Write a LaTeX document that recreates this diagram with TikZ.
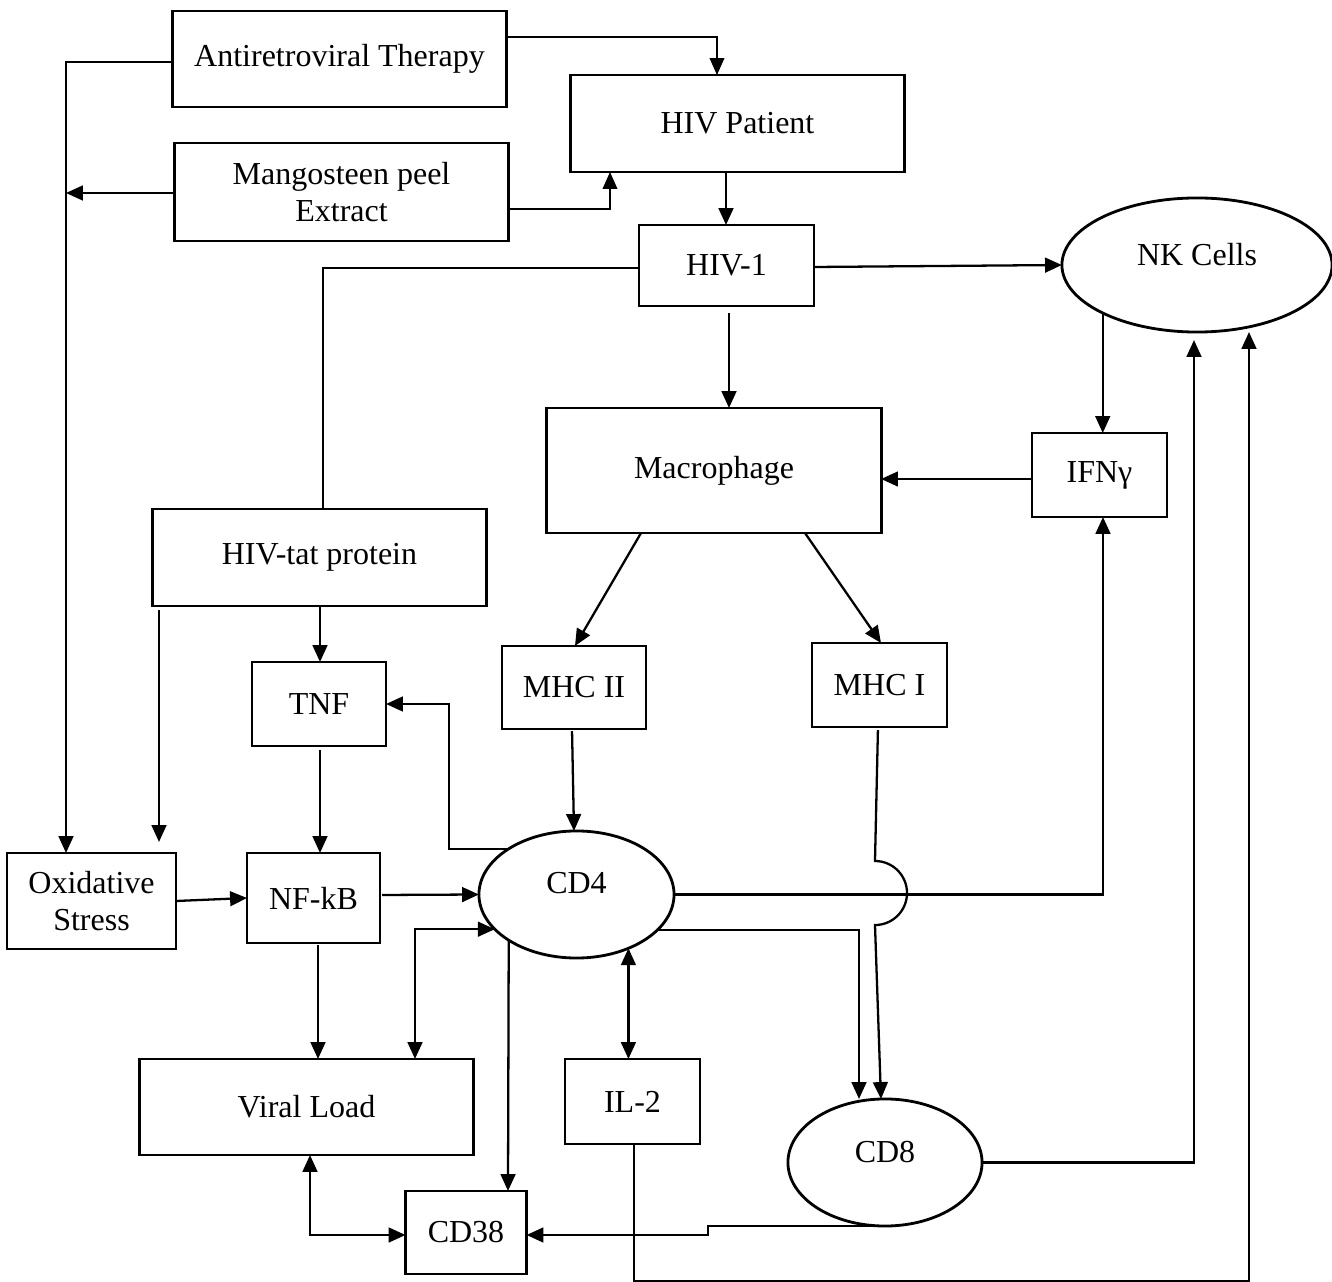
\documentclass[tikz,border=0pt]{standalone}
\usepackage{fontspec}
\setmainfont{Liberation Serif}
\usetikzlibrary{arrows.meta,shapes.geometric}
\tikzset{
  box/.style={draw, line width=0.8pt, inner sep=0pt, outer sep=0pt, align=center},
  cell/.style={draw, ellipse, line width=0.8pt, inner sep=0pt, outer sep=0pt},
  tip/.tip={Triangle[length=4.8pt,width=4.2pt]},
  conn/.style={line width=0.65pt, -tip},
  both/.style={line width=0.65pt, tip-tip},
  thinconn/.style={line width=0.3pt, -tip},
  thinline/.style={line width=0.3pt}
}
\begin{document}
\begin{tikzpicture}[x=0.01cm, y=-0.01cm, font=\fontsize{9.1}{10.7}\selectfont]
\useasboundingbox (0,0) rectangle (1332,1282);
% nodes
\node[box, minimum width=3.33cm, minimum height=0.96cm] (art) at (339.5,59) {Antiretroviral Therapy};
\node[box, minimum width=3.33cm, minimum height=0.97cm] (pat) at (737.5,123.5) {HIV Patient};
\node[box, minimum width=3.33cm, minimum height=0.98cm] (man) at (341.5,192) {Mangosteen peel\\Extract};
\node[box, minimum width=1.75cm, minimum height=0.81cm] (hiv1) at (726.5,265.5) {HIV-1};
\node[cell, minimum width=2.70cm, minimum height=1.34cm, label={[yshift=0.1cm]center:NK Cells}] (nk) at (1197,265) {};
\node[box, minimum width=3.34cm, minimum height=1.25cm] (mac) at (714,470.5) {Macrophage};
\node[box, minimum width=1.35cm, minimum height=0.84cm] (ifn) at (1099.5,475) {IFNγ};
\node[box, minimum width=3.33cm, minimum height=0.97cm] (tat) at (319.5,557.5) {HIV-tat protein};
\node[box, minimum width=1.34cm, minimum height=0.84cm] (tnf) at (319,704) {TNF};
\node[box, minimum width=1.44cm, minimum height=0.83cm] (mhc2) at (574,687.5) {MHC II};
\node[box, minimum width=1.35cm, minimum height=0.84cm] (mhc1) at (879.5,685) {MHC I};
\node[box, minimum width=1.69cm, minimum height=0.96cm] (ox) at (91.5,901) {Oxidative\\Stress};
\node[box, minimum width=1.33cm, minimum height=0.90cm] (nfkb) at (313.5,898) {NF-kB};
\node[cell, minimum width=1.95cm, minimum height=1.27cm, label={[yshift=0.11cm]center:CD4}] (cd4) at (576.5,894.5) {};
\node[box, minimum width=3.33cm, minimum height=0.96cm] (vl) at (306.5,1107) {Viral Load};
\node[box, minimum width=1.35cm, minimum height=0.85cm] (il2) at (632.5,1101.5) {IL-2};
\node[cell, minimum width=1.94cm, minimum height=1.27cm, label={[yshift=0.1cm]center:CD8}] (cd8) at (885,1162.5) {};
\node[box, minimum width=1.21cm, minimum height=0.83cm] (cd38) at (466,1232.5) {CD38};
\coordinate (j1) at (66,193);
\coordinate (c1) at (634,1281);
% connectors
\draw[thinconn] (art.east |- 0,37) -| (pat.north -| 717,0);
\draw[conn] (art.west |- 0,62) -| (ox.north -| 66,0);
\draw[conn] (man.west |- 0,193) -- (j1);
\draw[thinconn] (man.east |- 0,209) -| (pat.south -| 610,0);
\draw[conn] (pat.south -| 726,0) -- (hiv1.north -| 726,0);
\draw[thinline] (hiv1.west |- 0,268) -| (tat.north -| 323,0);
\draw[conn] (hiv1.east |- 0,267) -- (nk.west);
\draw[conn, shorten <=0.07cm] (hiv1.south -| 729,0) -- (mac.north -| 729,0);
\draw[conn] (nk.207) -- (nk.207 |- ifn.north);
\draw[conn] (ifn.west |- 0,479) -- (mac.east |- 0,479);
\draw[conn] (mac.south -| 641,0) -- (mhc2.north -| 575,0);
\draw[conn] (mac.south -| 805,0) -- (mhc1.north -| 881,0);
\draw[conn, shorten <=0.01cm] (tat.south -| 320,0) -- (tnf.north -| 320,0);
\draw[conn, shorten <=0.04cm, shorten >=0.11cm] (tat.south -| 159,0) -- (ox.north -| 159,0);
\draw[conn, shorten <=0.04cm] (tnf.south -| 320,0) -- (nfkb.north -| 320,0);
\draw[conn, shorten <=0.02cm] (mhc2.south -| 572,0) -- (cd4.north -| 574,0);
\draw[conn] (cd4.146) -| (tnf.east -| 449,0) -- (tnf.east);
\draw[conn] (ox.east) -- (nfkb.west);
\draw[conn, shorten <=0.02cm] (nfkb.east |- 0,895) -- (cd4.west);
\draw[conn, shorten <=0.02cm] (nfkb.south -| 318,0) -- (vl.north -| 318,0);
\draw[both] (cd4.203) -| (vl.north -| 415,0);
\draw[conn] (cd4.214) -- (cd38.north -| 508,0);
\draw[both] (cd4.314) -- (cd4.314 |- il2.north);
\draw[conn] (cd4.east) -| (ifn.south -| 1103,0);
\draw[conn, shorten <=0.03cm] (mhc1.south -| 878,0) -- (875,861) arc[start angle=90, end angle=-90, radius=0.32cm] -- (cd8.north -| 881,0);
\draw[conn] (cd4.336) -| (cd8.north -| 859,0);
\draw[conn, shorten >=0.08cm] (cd8.east) -| (nk.south -| 1194,0);
\draw[conn] (il2.south -| 634,0) -- (c1) -| (nk.south -| 1249,0);
\draw[conn] (cd8.south -| 891,0) -| (708,1235) -- (cd38.east |- 0,1235);
\draw[both] (vl.south -| 310,0) |- (cd38.west |- 0,1235);
\end{tikzpicture}
\end{document}
